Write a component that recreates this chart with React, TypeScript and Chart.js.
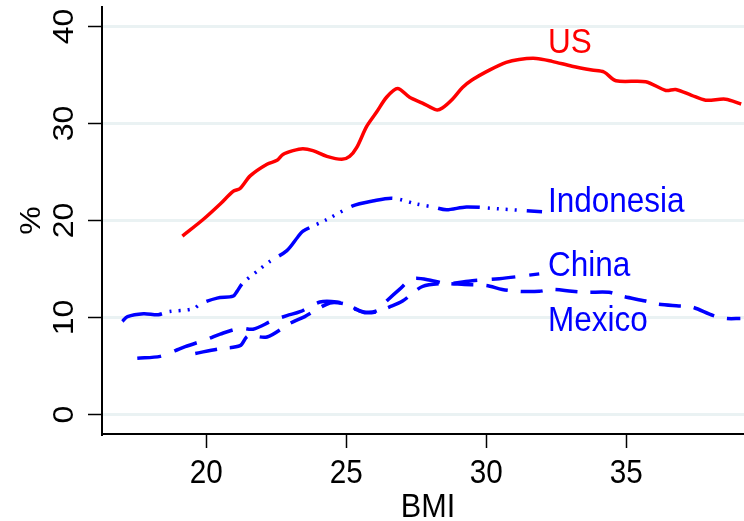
import React, { useEffect, useRef } from "react";
import { Chart, registerables } from "chart.js";

Chart.register(...registerables);

// ---- Data ----
const usBmi = [19.15, 19.89, 20.5, 20.96, 21.21, 21.57, 22.17, 22.53, 22.74, 23.1, 23.45, 23.81, 24.31, 24.84, 25.12, 25.37, 25.73, 26.09, 26.44, 26.83, 27.26, 27.72, 28.22, 28.43, 28.79, 29.15, 29.5, 30.11, 30.71, 31.17, 31.78, 32.35, 33.06, 33.77, 34.2, 34.63, 35.69, 36.41, 36.76, 37.33, 37.83, 38.54, 39.1];
const usPct = [18.4, 20.1, 21.7, 23.0, 23.3, 24.6, 25.8, 26.2, 26.8, 27.2, 27.4, 27.2, 26.6, 26.3, 26.6, 27.5, 29.7, 31.2, 32.7, 33.6, 32.7, 32.1, 31.4, 31.6, 32.5, 33.7, 34.5, 35.5, 36.3, 36.6, 36.7, 36.4, 35.9, 35.5, 35.3, 34.4, 34.3, 33.4, 33.5, 32.9, 32.4, 32.5, 32.0];

const indBmi = [17.01, 17.19, 17.76, 18.29, 18.65, 19.54, 19.79, 20.39, 20.96, 21.1, 21.32, 21.92, 22.28, 22.88, 23.27, 23.45, 24.31, 25.23, 25.94, 26.65, 27.51, 28.08, 28.58, 29.29, 30.46, 31.99];
const indPct = [9.6, 10.1, 10.4, 10.3, 10.6, 10.9, 11.4, 12.0, 12.2, 12.7, 13.6, 15.0, 15.8, 16.9, 18.3, 18.9, 20.1, 21.5, 22.0, 22.3, 21.7, 21.4, 21.1, 21.4, 21.2, 20.9];

const chnBmi = [17.54, 18.36, 18.9, 19.25, 20.07, 20.5, 21.21, 21.67, 22.38, 22.88, 23.35, 24.06, 24.66, 25.12, 25.59, 26.09, 26.44, 26.9, 27.37, 28.08, 28.58, 29.5, 30.46, 31.89];
const chnPct = [5.8, 6.0, 6.6, 7.0, 7.8, 8.3, 8.9, 8.8, 9.7, 10.2, 10.6, 11.6, 11.6, 11.2, 10.6, 10.7, 11.7, 12.9, 14.0, 13.8, 13.5, 13.8, 14.0, 14.5];

const mexBmi = [19.61, 20.5, 21.21, 21.49, 22.17, 22.99, 23.52, 24.41, 24.95, 25.3, 25.66, 26.09, 26.55, 27.01, 27.72, 28.43, 29.22, 30.0, 30.57, 31.17, 31.89, 32.35, 33.06, 33.59, 34.38, 34.84, 35.69, 36.09, 36.87, 37.33, 38.11, 38.58, 39.07];
const mexPct = [6.3, 6.8, 7.1, 8.1, 8.0, 9.4, 10.1, 11.5, 11.4, 10.9, 10.5, 10.6, 11.1, 11.7, 13.2, 13.5, 13.4, 13.3, 12.9, 12.7, 12.7, 12.9, 12.7, 12.6, 12.6, 12.2, 11.7, 11.4, 11.2, 11.1, 10.2, 9.9, 9.9];

const xTicks = [20, 25, 30, 35];
const yTicks = [0, 10, 20, 30, 40];
const xTitle = "BMI";
const yTitle = "%";

const labelNames = ["US", "Indonesia", "China", "Mexico"];
const labelX = [32.2, 32.2, 32.2, 32.2];
const labelY = [37.3, 20.9, 14.3, 8.6];
const labelColors = ["#ff0000", "#0000ff", "#0000ff", "#0000ff"];

const toPts = (xs: number[], ys: number[]) => xs.map((x, i) => ({ x, y: ys[i] }));

const FONT = "'Liberation Sans', Arial, Helvetica, sans-serif";
const SX = 0.9;

function drawText(
  ctx: CanvasRenderingContext2D,
  text: string,
  x: number,
  y: number,
  size: number,
  color: string,
  align: CanvasTextAlign,
  rotate: boolean
) {
  ctx.save();
  ctx.translate(x, y);
  ctx.scale(SX, 1);
  if (rotate) ctx.rotate(-Math.PI / 2);
  ctx.font = `${size}px ${FONT}`;
  ctx.fillStyle = color;
  ctx.textAlign = align;
  ctx.textBaseline = "alphabetic";
  ctx.fillText(text, 0, 0);
  ctx.restore();
}

const textPlugin = {
  id: "textPlugin",
  afterDraw(chart: any) {
    const ctx = chart.ctx as CanvasRenderingContext2D;
    const xs = chart.scales.x;
    const ys = chart.scales.y;
    const area = chart.chartArea;
    yTicks.forEach((v) => {
      drawText(ctx, String(v), 73, ys.getPixelForValue(v), 32, "#000", "center", true);
    });
    xTicks.forEach((v) => {
      drawText(ctx, String(v), xs.getPixelForValue(v), 483, 33, "#000", "center", false);
    });
    drawText(ctx, xTitle, (area.left + area.right) / 2 + 5, 517, 34, "#000", "center", false);
    drawText(ctx, yTitle, 40, (area.top + area.bottom) / 2, 32, "#000", "center", true);
    labelNames.forEach((name, i) => {
      drawText(ctx, name, xs.getPixelForValue(labelX[i]), ys.getPixelForValue(labelY[i]), 35, labelColors[i], "left", false);
    });
  },
};

export default function App() {
  const ref = useRef<HTMLCanvasElement | null>(null);

  useEffect(() => {
    document.body.style.margin = "0";
    if (!ref.current) return;
    const lineBase = {
      borderWidth: 3.5,
      pointRadius: 0,
      fill: false,
      tension: 0.3,
      borderCapStyle: "butt" as const,
    };
    const chart = new Chart(ref.current, {
      type: "line",
      data: {
        datasets: [
          { ...lineBase, label: "US", data: toPts(usBmi, usPct), borderColor: "#ff0000" },
          {
            ...lineBase,
            label: "Indonesia",
            data: toPts(indBmi, indPct),
            borderColor: "#0000ff",
            borderDash: [42, 8, 2, 7, 2, 7, 2, 7, 2, 10],
          },
          { ...lineBase, label: "China", data: toPts(chnBmi, chnPct), borderColor: "#0000ff", borderDash: [24, 14] },
          { ...lineBase, label: "Mexico", data: toPts(mexBmi, mexPct), borderColor: "#0000ff", borderDash: [22, 13] },
        ],
      },
      options: {
        animation: false,
        responsive: false,
        devicePixelRatio: 1,
        layout: { padding: { top: 7, left: 0, right: 0, bottom: 0 } },
        plugins: { legend: { display: false }, tooltip: { enabled: false } },
        scales: {
          x: {
            type: "linear",
            min: 16.28,
            max: 39.2,
            afterFit: (s: any) => {
              s.height = 87;
            },
            afterBuildTicks: (s: any) => {
              s.ticks = xTicks.map((v) => ({ value: v }));
            },
            ticks: { display: false },
            grid: {
              drawOnChartArea: false,
              drawTicks: true,
              tickLength: 14,
              tickColor: "#000",
              tickWidth: 1.5,
            },
            border: { display: true, color: "#000", width: 2 },
          },
          y: {
            type: "linear",
            min: -2,
            max: 42,
            afterFit: (s: any) => {
              s.width = 102;
            },
            afterBuildTicks: (s: any) => {
              s.ticks = yTicks.map((v) => ({ value: v }));
            },
            ticks: { display: false },
            grid: {
              color: "#eaf2f3",
              lineWidth: 3,
              drawTicks: true,
              tickLength: 14,
              tickColor: "#000",
              tickWidth: 1.5,
            },
            border: { display: true, color: "#000", width: 2 },
          },
        },
      },
      plugins: [textPlugin],
    });
    return () => chart.destroy();
  }, []);

  return <canvas ref={ref} width={744} height={521} style={{ display: "block" }} />;
}
